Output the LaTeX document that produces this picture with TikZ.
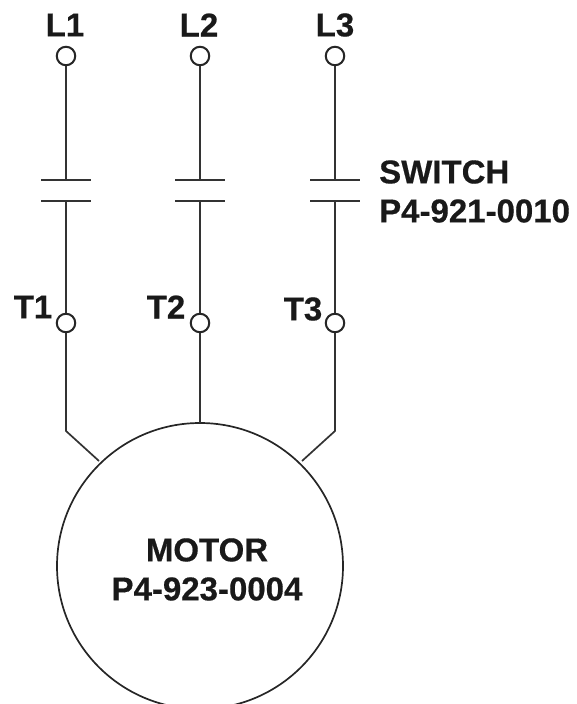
\documentclass[tikz,border=0pt]{standalone}
\usepackage{fontspec}
\setmainfont[BoldFeatures={FakeBold=0.5}]{Liberation Sans}
\begin{document}
\begin{tikzpicture}[x=1pt,y=-1pt,
 wire/.style={line width=1.7pt,color=black!80},
 term/.style={circle,draw=black!85,line width=2pt,fill=white,minimum size=18.5pt,inner sep=0pt},
 lab/.style={font=\bfseries\fontsize{33}{36}\selectfont,text=black!90,inner sep=0pt}]
\useasboundingbox (0,0) rectangle (576,704);
\node[lab] (tL1) at (65,25) {L1};
\node[lab] (tL2) at (199,25) {L2};
\node[lab] (tL3) at (335,25) {L3};
\node[lab] (tT1) at (33,307) {T1};
\node[lab] (tT2) at (166,307) {T2};
\node[lab] (tT3) at (303,309) {T3};
\foreach \n/\x in {a/66,b/200,c/335}{
 \coordinate (\n u) at (\x,180);
 \coordinate (\n d) at (\x,201);
 \coordinate (\n ul) at (\x-25,180); \coordinate (\n ur) at (\x+25,180);
 \coordinate (\n dl) at (\x-25,201); \coordinate (\n dr) at (\x+25,201);
 \draw[wire] (\n ul) -- (\n ur);
 \draw[wire] (\n dl) -- (\n dr);
}
\node[circle,draw=black!85,line width=1.7pt,minimum size=286pt,inner sep=0pt] (M) at (200,566) {};
\coordinate (k1) at (66,431); \coordinate (k3) at (335,431);
\coordinate (m1) at (99,461); \coordinate (m3) at (302,461);
\coordinate (m2) at (200,423);
\draw[wire] (66,56) -- (au); \draw[wire] (ad) -- (66,323);
\draw[wire] (200,56) -- (bu); \draw[wire] (bd) -- (200,323);
\draw[wire] (335,56) -- (cu); \draw[wire] (cd) -- (335,323);
\draw[wire] (66,323) -- (k1) -- (m1);
\draw[wire] (200,323) -- (m2);
\draw[wire] (335,323) -- (k3) -- (m3);
\node[term] (L1) at (66,56) {};
\node[term] (L2) at (200,56) {};
\node[term] (L3) at (335,56) {};
\node[term] (T1) at (66,323) {};
\node[term] (T2) at (200,323) {};
\node[term] (T3) at (335,323) {};
\node[lab,anchor=west] (s1) at (379,172) {SWITCH};
\node[lab,anchor=west] (s2) at (379,211) {P4-921-0010};
\node[lab] (m1t) at (207,550) {MOTOR};
\node[lab] (m2t) at (207,589) {P4-923-0004};
\end{tikzpicture}
\end{document}
